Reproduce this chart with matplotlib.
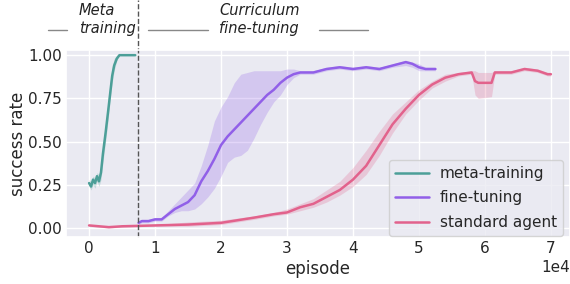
import matplotlib
matplotlib.use("Agg")
import matplotlib.pyplot as plt
import numpy as np
import seaborn as sns
from matplotlib.lines import Line2D

sns.set_theme(style="darkgrid")
plt.rcParams["font.family"] = ["DejaVu Sans"]

# episodes (1e4 units)
mt_x = [0.0, 0.03, 0.06, 0.09, 0.12, 0.15, 0.18, 0.21, 0.25, 0.29, 0.32, 0.35, 0.38,
        0.42, 0.46, 0.5, 0.55, 0.6, 0.65, 0.7]
mt_y = [0.26, 0.24, 0.28, 0.26, 0.30, 0.27, 0.32, 0.43, 0.55, 0.68, 0.78, 0.88, 0.94,
        0.98, 1.0, 1.0, 1.0, 1.0, 1.0, 1.0]
mt_lo = [0.24, 0.22, 0.25, 0.23, 0.27, 0.24, 0.28, 0.38, 0.50, 0.63, 0.74, 0.84, 0.91,
         0.97, 1.0, 1.0, 1.0, 1.0, 1.0, 1.0]
mt_hi = [0.28, 0.27, 0.30, 0.29, 0.32, 0.31, 0.37, 0.48, 0.61, 0.74, 0.84, 0.93, 0.98,
         1.0, 1.0, 1.0, 1.0, 1.0, 1.0, 1.0]

ft_x = [0.75, 0.8, 0.9, 1.0, 1.1, 1.2, 1.3, 1.4, 1.5, 1.6, 1.7, 1.8, 1.9, 2.0, 2.1, 2.2,
        2.3, 2.4, 2.5, 2.6, 2.7, 2.8, 2.9, 3.0, 3.1, 3.2, 3.4, 3.6, 3.8, 4.0, 4.2, 4.4,
        4.6, 4.8, 4.9, 5.0, 5.1, 5.25]
ft_y = [0.03, 0.04, 0.04, 0.05, 0.05, 0.08, 0.11, 0.13, 0.15, 0.19, 0.27, 0.33, 0.40,
        0.48, 0.53, 0.57, 0.61, 0.65, 0.69, 0.73, 0.77, 0.80, 0.84, 0.87, 0.89, 0.90,
        0.90, 0.92, 0.93, 0.92, 0.93, 0.92, 0.94, 0.96, 0.95, 0.93, 0.92, 0.92]
ft_lo = [0.02, 0.03, 0.03, 0.04, 0.04, 0.07, 0.09, 0.10, 0.10, 0.11, 0.14, 0.18, 0.23,
         0.30, 0.38, 0.41, 0.42, 0.45, 0.52, 0.60, 0.67, 0.73, 0.77, 0.83, 0.87, 0.89,
         0.89, 0.91, 0.92, 0.91, 0.92, 0.91, 0.93, 0.94, 0.93, 0.91, 0.91, 0.91]
ft_hi = [0.04, 0.05, 0.05, 0.06, 0.06, 0.10, 0.14, 0.18, 0.22, 0.26, 0.36, 0.48, 0.62,
         0.70, 0.76, 0.84, 0.89, 0.90, 0.91, 0.91, 0.91, 0.91, 0.91, 0.92, 0.92, 0.91,
         0.91, 0.93, 0.94, 0.93, 0.94, 0.93, 0.95, 0.97, 0.96, 0.95, 0.93, 0.93]

sa_x = [0.0, 0.3, 0.5, 1.0, 1.5, 2.0, 2.5, 2.8, 3.0, 3.2, 3.4, 3.6, 3.8, 4.0, 4.2, 4.4,
        4.6, 4.8, 5.0, 5.2, 5.4, 5.6, 5.8, 5.85, 5.9, 6.1, 6.15, 6.4, 6.6, 6.8, 6.95, 7.0]
sa_y = [0.015, 0.005, 0.01, 0.015, 0.02, 0.03, 0.06, 0.08, 0.09, 0.12, 0.14, 0.18, 0.22,
        0.28, 0.36, 0.48, 0.60, 0.69, 0.77, 0.83, 0.87, 0.89, 0.90, 0.85, 0.84, 0.84,
        0.90, 0.90, 0.92, 0.91, 0.89, 0.89]
sa_lo = [0.01, 0.0, 0.005, 0.01, 0.01, 0.02, 0.05, 0.07, 0.08, 0.10, 0.12, 0.15, 0.19,
         0.24, 0.31, 0.42, 0.55, 0.66, 0.74, 0.81, 0.85, 0.88, 0.89, 0.77, 0.75, 0.76,
         0.89, 0.89, 0.91, 0.90, 0.88, 0.88]
sa_hi = [0.02, 0.01, 0.015, 0.02, 0.035, 0.045, 0.07, 0.09, 0.11, 0.14, 0.17, 0.22, 0.27,
         0.35, 0.45, 0.56, 0.66, 0.73, 0.80, 0.85, 0.89, 0.90, 0.91, 0.91, 0.90, 0.90,
         0.91, 0.91, 0.93, 0.92, 0.90, 0.90]

switch_ep = 0.74

c_mt = "#4c9f98"
c_ft = "#915fe8"
c_sa = "#e2628c"

fig = plt.figure(figsize=(5.7, 2.84), dpi=100)
ax = fig.add_axes([66 / 570, 1 - 237 / 284, 1 - 66 / 570, 187 / 284])

for x, y, lo, hi, c, lab in [
    (mt_x, mt_y, mt_lo, mt_hi, c_mt, "meta-training"),
    (ft_x, ft_y, ft_lo, ft_hi, c_ft, "fine-tuning"),
    (sa_x, sa_y, sa_lo, sa_hi, c_sa, "standard agent"),
]:
    xe = np.array(x) * 1e4
    ax.fill_between(xe, lo, hi, color=c, alpha=0.25, lw=0)
    ax.plot(xe, y, color=c, lw=1.8, label=lab)

ax.axvline(switch_ep * 1e4, ymin=0, ymax=1.27, color="#555555", ls="--", lw=1.0,
           clip_on=False)

ax.set_xlim(-3500, 72900)
ax.set_ylim(-0.052, 1.03)
ax.set_xticks(np.arange(0, 70001, 10000))
ax.set_yticks([0, 0.25, 0.5, 0.75, 1.0])
ax.ticklabel_format(axis="x", style="sci", scilimits=(0, 0))
ax.tick_params(labelsize=11, length=0, pad=3)
ax.xaxis.get_offset_text().set_fontsize(11)
ax.set_xlabel("episode", fontsize=12, labelpad=3)
ax.set_ylabel("success rate", fontsize=12, labelpad=1)
ax.legend(loc="lower right", fontsize=11, handlelength=2.2, handletextpad=0.7,
          labelspacing=0.62, borderaxespad=0,
          bbox_to_anchor=(563 / 570, 1 - 236 / 284), bbox_transform=fig.transFigure)

fig.text(79 / 570, 1 - 3 / 284, "Meta\ntraining", style="italic", fontsize=10.5,
         ha="left", va="top", color="#222222", linespacing=1.25)
fig.text(219 / 570, 1 - 3 / 284, "Curriculum\nfine-tuning", style="italic", fontsize=10.5,
         ha="left", va="top", color="#222222", linespacing=1.25)
for x0, x1 in [(48, 67), (148, 208), (319, 368)]:
    fig.add_artist(Line2D([x0 / 570, x1 / 570], [1 - 30 / 284] * 2, color="#888888", lw=1.0))

fig.savefig("out.png", dpi=100)
